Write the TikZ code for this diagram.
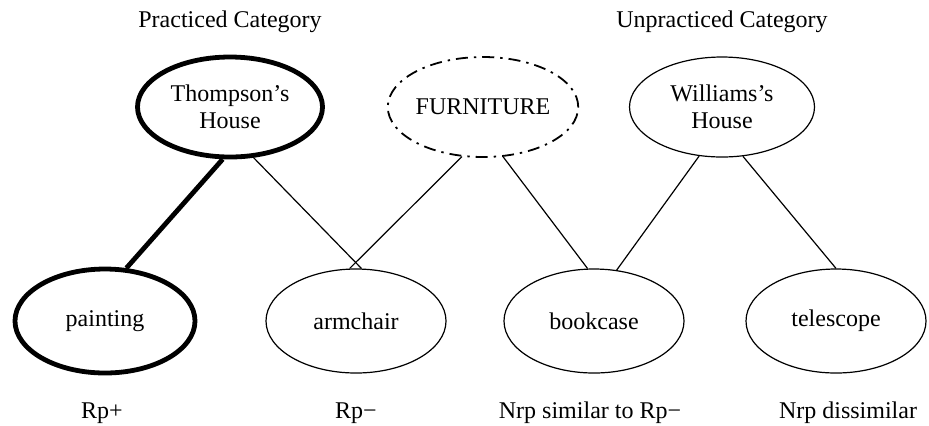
\documentclass[tikz,border=0pt]{standalone}
\usepackage{fontspec}
\setmainfont{Liberation Serif}
\usetikzlibrary{shapes.geometric}

\begin{document}
\begin{tikzpicture}[x=0.5pt,y=-0.5pt,
    font=\fontsize{12}{13.5}\selectfont,
    concept/.style={draw,ellipse,line width=0.6pt,inner sep=0pt,
      minimum width=92.5pt,minimum height=50pt,align=center},
    item/.style={concept,minimum width=90pt,minimum height=52pt},
    practiced/.style={line width=2.4pt},
    category/.style={line width=0.9pt,dash pattern=on 6pt off 3pt on 1.2pt off 3pt},
    link/.style={line width=0.6pt}]
  \useasboundingbox (0,0) rectangle (929,425);

  % top row
  \node[concept,practiced] (thompson) at (230,107) {Thompson's\\House};
  \node[concept,category] (furniture) at (483,107) {FURNITURE};
  \node[concept] (williams) at (722,107) {Williams's\\House};

  % bottom row
  \node[item,practiced] (painting) at (105,321) {painting};
  \node[item] (armchair) at (356,321) {armchair};
  \node[item] (bookcase) at (594,321) {bookcase};
  \node[item] (telescope) at (836,321) {telescope};

  \node (practicedlabel) at (230,22) {Practiced Category};
  \node (unpracticedlabel) at (722,22) {Unpracticed Category};

  \node (paintinglabel) at (102,413) {Rp+};
  \node (armchairlabel) at (356,413) {Rp−};
  \node (bookcaselabel) at (590,413) {Nrp similar to Rp−};
  \node (telescopelabel) at (848,413) {Nrp dissimilar};

  \draw[practiced] (thompson.262) -- (painting.68.5);
  \draw[link] (thompson.295.4) -- (armchair.84.5);
  \draw[link] (furniture.247.7) -- (armchair.97.7);
  \draw[link] (furniture.292.3) -- (bookcase.97.7);
  \draw[link] (williams.245.6) -- (bookcase.66.5);
  \draw[link] (williams.293.4) -- (telescope.90);
\end{tikzpicture}
\end{document}
